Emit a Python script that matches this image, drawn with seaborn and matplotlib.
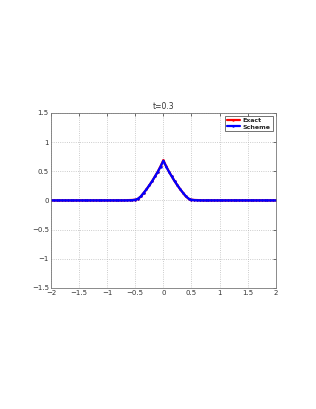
import seaborn as sns
import matplotlib.pyplot as plt
import numpy as np
import pandas as pd

# grid points, -2..2 step 0.05
x = np.round(np.linspace(-2, 2, 81), 2)

# numerical solution (symmetric around 0), x=-2 .. -0.05
left = [0.0, 0.0, 0.0, 0.0, 0.0, 0.0, 0.0, 0.0, 0.0, 0.0,
        0.0, 0.0, 0.0, 0.0, 0.0, 0.0, 0.0, 0.0, 0.0, 0.0,
        0.0, 0.0, 0.0, 0.0, 0.0, 0.0, 0.0, 0.0, 0.002, 0.005,
        0.012, 0.03, 0.07, 0.13, 0.19, 0.26, 0.33, 0.41, 0.49, 0.58]
yScheme = left + [0.68] + left[::-1]

leftExact = [0.0, 0.0, 0.0, 0.0, 0.0, 0.0, 0.0, 0.0, 0.0, 0.0,
             0.0, 0.0, 0.0, 0.0, 0.0, 0.0, 0.0, 0.0, 0.0, 0.0,
             0.0, 0.0, 0.0, 0.0, 0.0, 0.0, 0.0, 0.004, 0.006, 0.008,
             0.012, 0.028, 0.068, 0.128, 0.19, 0.258, 0.33, 0.41, 0.492, 0.585]
yExact = leftExact + [0.69] + leftExact[::-1]

df = pd.DataFrame({'x': np.concatenate([x, x]),
                   'u': yExact + yScheme,
                   'kind': ['Exact'] * len(x) + ['Scheme'] * len(x)})

sns.set_style('white')
plt.rcParams['font.family'] = ['DejaVu Sans']

fig = plt.figure(figsize=(3.16, 4.09), dpi=100)
ax = fig.add_axes([0.161, 0.296, 0.712, 0.428])

sns.lineplot(data=df, x='x', y='u', hue='kind', palette=['red', 'blue'],
             marker='.', markersize=3.5, markeredgewidth=0, linewidth=1.6,
             ax=ax)

ax.set_xlim(-2, 2)
ax.set_ylim(-1.5, 1.5)
ax.set_xticks(np.arange(-2, 2.01, 0.5))
ax.set_yticks(np.arange(-1.5, 1.51, 0.5))
ax.set_xticklabels(['\u22122', '\u22121.5', '\u22121', '\u22120.5', '0', '0.5', '1', '1.5', '2'])
ax.set_yticklabels(['\u22121.5', '\u22121', '\u22120.5', '0', '0.5', '1', '1.5'])
ax.tick_params(direction='in', length=2, width=0.5, labelsize=5, pad=1.5, colors='#333333',
               top=True, right=True)
ax.grid(True, linestyle=':', linewidth=0.6, color='#bbbbbb')
for s in ax.spines.values():
    s.set_linewidth(0.6)
    s.set_color('#777777')
ax.set_xlabel('')
ax.set_ylabel('')
ax.set_title('t=0.3', fontsize=5.5, pad=3, color='#333333')

leg = ax.legend(loc='upper right', fontsize=4.5, frameon=True, fancybox=False,
                borderpad=0.3, handlelength=2.0, handletextpad=0.5,
                labelspacing=0.15, borderaxespad=0.5)
leg.get_frame().set_edgecolor('#333333')
leg.get_frame().set_linewidth(0.6)
for t in leg.get_texts():
    t.set_fontweight('bold')

fig.savefig('out.png', dpi=100)
